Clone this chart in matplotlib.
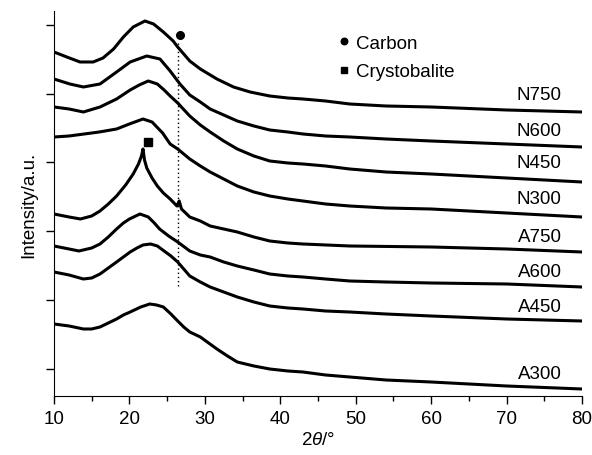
import numpy as np
import matplotlib
matplotlib.use("Agg")
import matplotlib.pyplot as plt

plt.rcParams['font.family'] = ['Liberation Sans', 'DejaVu Sans']
plt.rcParams['mathtext.fontset'] = 'custom'
plt.rcParams['mathtext.it'] = 'Liberation Sans:italic'
plt.rcParams['mathtext.rm'] = 'Liberation Sans'

# XRD patterns (stacked, offset intensity in a.u.)
n750_x = [10, 11.7, 13.45, 15.2, 16.5, 17.9, 19.2, 20.5, 22.06, 23.2, 24.5, 25.8, 26.4, 28, 29.4, 31.6, 33.8, 36, 38.6, 41, 43, 46, 49.2, 54, 60, 70, 80]
n750_y = [344, 339, 334, 334, 338, 347, 359, 369, 375, 372, 364, 355, 349, 335, 327, 317, 309, 304, 300, 298, 297, 295, 292, 290, 289, 286, 284]

n600_x = [10, 12.1, 13.9, 16.1, 18.3, 20.1, 22.3, 24.05, 25.4, 26.7, 28, 29.4, 30.7, 32.5, 34.3, 36.5, 38.6, 41, 43, 46, 49.2, 54, 60, 70, 80]
n600_y = [317, 312, 309, 312, 324, 334, 340, 337, 325, 312, 301, 294, 287, 281, 275, 270, 266, 264, 262, 260, 259, 257, 255, 252, 249]

n450_x = [10, 12, 13.9, 16.1, 18.3, 20.1, 21.3, 22.5, 23.7, 24.6, 25.4, 26.4, 28, 29.4, 30.7, 32.5, 34.3, 36.5, 38.6, 41, 43, 46, 49.2, 54, 60, 70, 80]
n450_y = [289, 287, 284, 289, 297, 306, 311, 315, 312, 306, 300, 293, 280, 271, 264, 255, 247, 240, 235, 233, 232, 230, 227, 224, 222, 218, 214]

n300_x = [10, 12, 14, 16, 18.3, 20, 21.8, 23, 24.4, 25.4, 26.4, 28, 29.4, 30.7, 32.5, 34.3, 36.5, 38.6, 41, 43, 46, 49.2, 54, 60, 70, 80]
n300_y = [259, 260, 262, 264, 267, 272, 277, 274, 263, 252, 247, 237, 230, 224, 217, 210, 204, 200, 197, 195, 192, 190, 188, 187, 183, 179]

a750_x = [10, 12, 13.5, 15, 16.1, 17.2, 18.3, 19.5, 20.5, 21.2, 21.6, 21.8, 22.0, 22.3, 23, 23.7, 24.5, 25.4, 26.3, 26.6, 26.9, 28, 29.4, 30.7, 32.5, 34.3, 36.5, 38.6, 41, 43, 49.2, 60, 70, 80]
a750_y = [182, 179, 177, 180, 185, 192, 200, 211, 222, 232, 240, 247, 236, 228, 218, 210, 203, 197, 190, 195, 187, 179, 175, 170, 167, 164, 159, 155, 153, 152, 150, 149, 147, 144]

a600_x = [10, 12, 13.3, 15, 16.1, 17.2, 18.3, 19.2, 20, 21.4, 22.5, 23.3, 24, 25.2, 26.4, 28, 29.4, 30.7, 32.5, 34.3, 36.5, 38.6, 41, 43, 46, 49.2, 54, 60, 70, 80]
a600_y = [150, 147, 145, 148, 152, 159, 167, 173, 177, 182, 179, 173, 167, 160, 154, 145, 141, 139, 134, 130, 126, 122, 120, 119, 117, 115, 114, 113, 112, 109]

a450_x = [10, 12, 13.9, 15, 16.1, 17.2, 18.3, 19.2, 20.1, 21, 21.8, 22.8, 23.7, 24.6, 25.5, 26.4, 28, 29.4, 30.7, 32.5, 34.3, 36.5, 38.6, 41, 43, 46, 49.2, 54, 60, 70, 80]
a450_y = [124, 121, 117, 118, 122, 128, 134, 139, 144, 148, 151, 152, 150, 145, 140, 134, 120, 114, 109, 104, 99, 94, 90, 88, 87, 85, 84, 82, 80, 77, 75]

a300_x = [10, 12, 13.9, 15, 16.1, 17.2, 18.3, 19.2, 20.1, 21.5, 22.7, 23.6, 24.5, 25.5, 26.4, 27.2, 28, 29.4, 30.5, 31.6, 33, 34.3, 36.5, 38.6, 41, 43, 46, 49.2, 54, 60, 70, 80]
a300_y = [72, 70, 67, 67, 69, 73, 77, 81, 84, 89, 92, 91, 89, 82, 75, 69, 64, 59, 53, 47, 40, 34, 30, 27, 25, 24, 21, 19, 16, 14, 10, 7]

samples = ['N750', 'N600', 'N450', 'N300', 'A750', 'A600', 'A450', 'A300']
label_y = [301, 265, 233, 197, 159, 124, 89, 22]

# peak markers
carbon_2theta = 26.5
carbon_line = [110, 355]
carbon_mark = (26.7, 361)
cristo_mark = (22.46, 254)

fig = plt.figure(figsize=(5.92, 4.56), dpi=100)
ax = fig.add_axes([0.0912, 0.1294, 0.8919, 0.8443])

curves = [(n750_x, n750_y), (n600_x, n600_y), (n450_x, n450_y), (n300_x, n300_y),
          (a750_x, a750_y), (a600_x, a600_y), (a450_x, a450_y), (a300_x, a300_y)]
for (cx, cy), name, ly in zip(curves, samples, label_y):
    ax.plot(cx, cy, color='black', lw=2.2, solid_joinstyle='round')
    ax.text(77.3, ly, name, ha='right', va='center', fontsize=13.5)

ax.plot([carbon_2theta, carbon_2theta], carbon_line, color='black', lw=1.0, ls=(0, (1, 2)))
ax.plot(*carbon_mark, 'o', color='black', ms=5.5, label='Carbon')
ax.plot(*cristo_mark, 's', color='black', ms=5.5, label='Crystobalite')

leg = ax.legend(loc='upper left', bbox_to_anchor=(0.525, 0.958), frameon=False,
                fontsize=13.5, handlelength=0.6, handletextpad=0.3, labelspacing=0.6,
                markerscale=0.85, borderaxespad=0)

ax.set_xlim(10, 80)
ax.set_ylim(0, 385)
ax.set_xticks(np.arange(10, 81, 10))
ax.set_xticks(np.arange(15, 80, 10), minor=True)
ax.set_yticks([27, 96, 165, 234, 302, 371])
ax.set_yticklabels([])
ax.spines['top'].set_visible(False)
ax.spines['right'].set_visible(False)
ax.tick_params(axis='both', which='major', direction='out', length=6, width=1, labelsize=13.5, pad=4)
ax.tick_params(axis='x', which='minor', direction='out', length=3.5, width=1)

ax.set_xlabel(r'2$\it{\theta}$/°', fontsize=13.5, labelpad=3)
ax.set_ylabel('Intensity/a.u.', fontsize=13.5, labelpad=2)

fig.savefig('out.png', dpi=100)
